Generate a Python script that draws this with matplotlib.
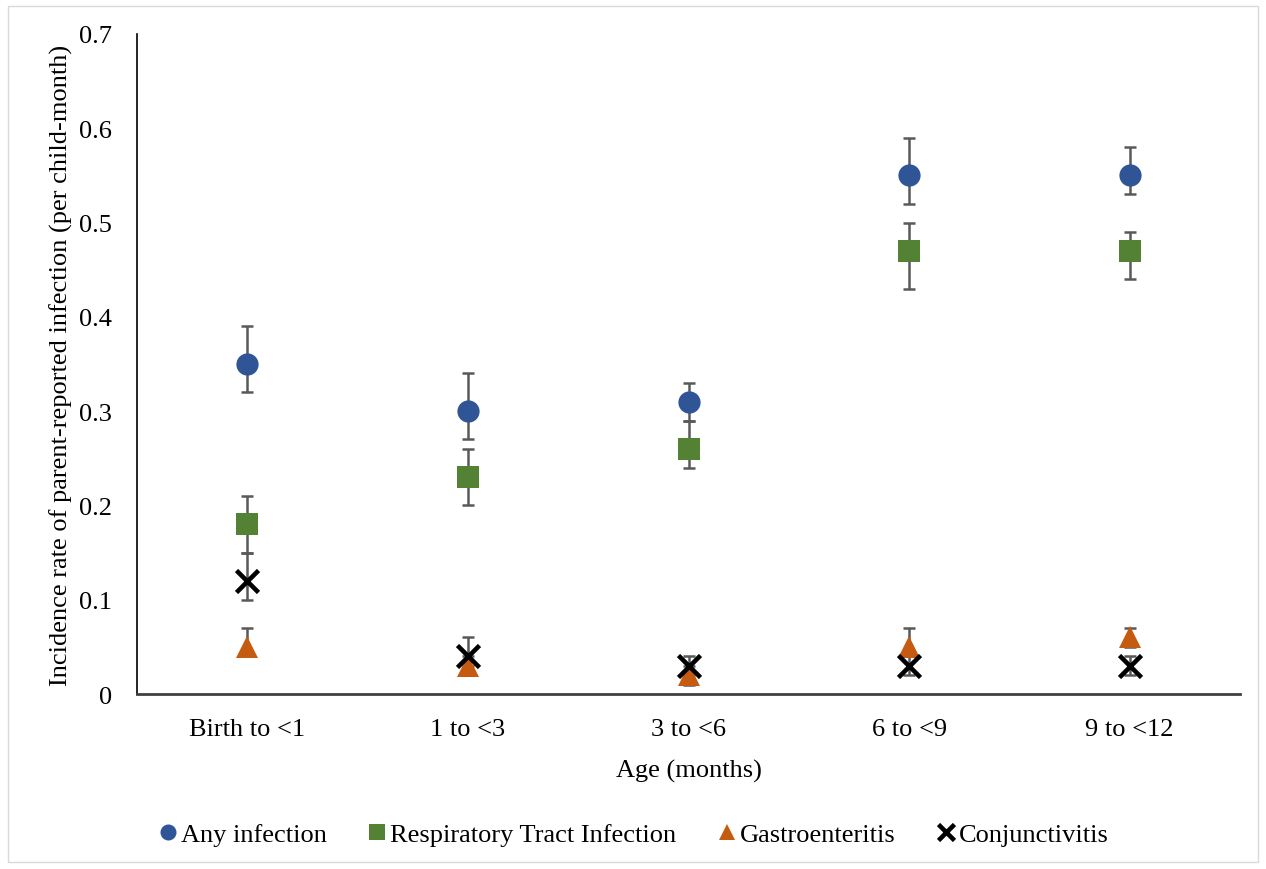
import matplotlib.pyplot as plt
from matplotlib.patches import Rectangle

plt.rcParams['font.family'] = ['Liberation Serif', 'DejaVu Serif']

ages = ["Birth to <1", "1 to <3", "3 to <6", "6 to <9", "9 to <12"]

any_inf = [0.35, 0.30, 0.31, 0.55, 0.55]
any_lo = [0.32, 0.27, 0.29, 0.52, 0.53]
any_hi = [0.39, 0.34, 0.33, 0.59, 0.58]

rti = [0.18, 0.23, 0.26, 0.47, 0.47]
rti_lo = [0.15, 0.20, 0.24, 0.43, 0.44]
rti_hi = [0.21, 0.26, 0.29, 0.50, 0.49]

gastro = [0.05, 0.03, 0.02, 0.05, 0.06]
gastro_lo = [0.04, 0.02, 0.01, 0.04, 0.05]
gastro_hi = [0.07, 0.04, 0.03, 0.07, 0.07]

conj = [0.12, 0.04, 0.03, 0.03, 0.03]
conj_lo = [0.10, 0.03, 0.02, 0.02, 0.02]
conj_hi = [0.15, 0.06, 0.04, 0.04, 0.04]

series = [
    ("Any infection", any_inf, any_lo, any_hi, "o", "#2F5597", 16),
    ("Respiratory Tract Infection", rti, rti_lo, rti_hi, "s", "#548235", 16),
    ("Gastroenteritis", gastro, gastro_lo, gastro_hi, "^", "#C55A11", 15.5),
    ("Conjunctivitis", conj, conj_lo, conj_hi, "x", "black", 16.5),
]

FS = 19

fig = plt.figure(figsize=(12.66, 8.70), dpi=100)
ax = fig.add_axes([0.1082, 0.2011, 0.8713, 0.7587])

x = list(range(len(ages)))
for name, vals, lo, hi, m, c, s in series:
    err = [[v - l for v, l in zip(vals, lo)], [h - v for v, h in zip(vals, hi)]]
    ax.errorbar(x, vals, yerr=err, fmt="none", ecolor="#595959", elinewidth=1.8,
                capsize=4.5, capthick=1.8, zorder=2)
    if m == "x":
        ax.plot(x, vals, linestyle="none", marker=m, color=c, markersize=s,
                markeredgewidth=3.3, label=name, zorder=3)
    else:
        ax.plot(x, vals, linestyle="none", marker=m, color=c, markersize=s,
                markeredgewidth=0, label=name, zorder=3)

ax.set_xlim(-0.5, 4.5)
ax.set_ylim(0, 0.7)
ax.set_yticks([0, 0.1, 0.2, 0.3, 0.4, 0.5, 0.6, 0.7])
ax.set_yticklabels(["0", "0.1", "0.2", "0.3", "0.4", "0.5", "0.6", "0.7"])
ax.set_xticks(x)
ax.set_xticklabels(ages)
ax.tick_params(axis="y", length=0, labelsize=FS, pad=18)
ax.tick_params(axis="x", length=0, labelsize=FS, pad=17)
for sp in ["top", "right"]:
    ax.spines[sp].set_visible(False)
ax.spines["left"].set_color("black")
ax.spines["left"].set_linewidth(1.2)
ax.spines["bottom"].set_color("#404040")
ax.spines["bottom"].set_linewidth(2)

ax.set_xlabel("Age (months)", fontsize=FS, labelpad=14)
ax.set_ylabel("Incidence rate of parent-reported infection (per child-month)", fontsize=FS, labelpad=4)

fig.legend(loc="center", bbox_to_anchor=(0.5, 0.04), ncol=4, frameon=False, fontsize=FS,
           handlelength=0.8, handletextpad=0.1, columnspacing=1.5, markerscale=0.72)

fig.patches.append(Rectangle((0.006, 0.008), 0.988, 0.984, transform=fig.transFigure,
                             fill=False, edgecolor="#d9d9d9", linewidth=1))

fig.savefig("out.png", dpi=100)
